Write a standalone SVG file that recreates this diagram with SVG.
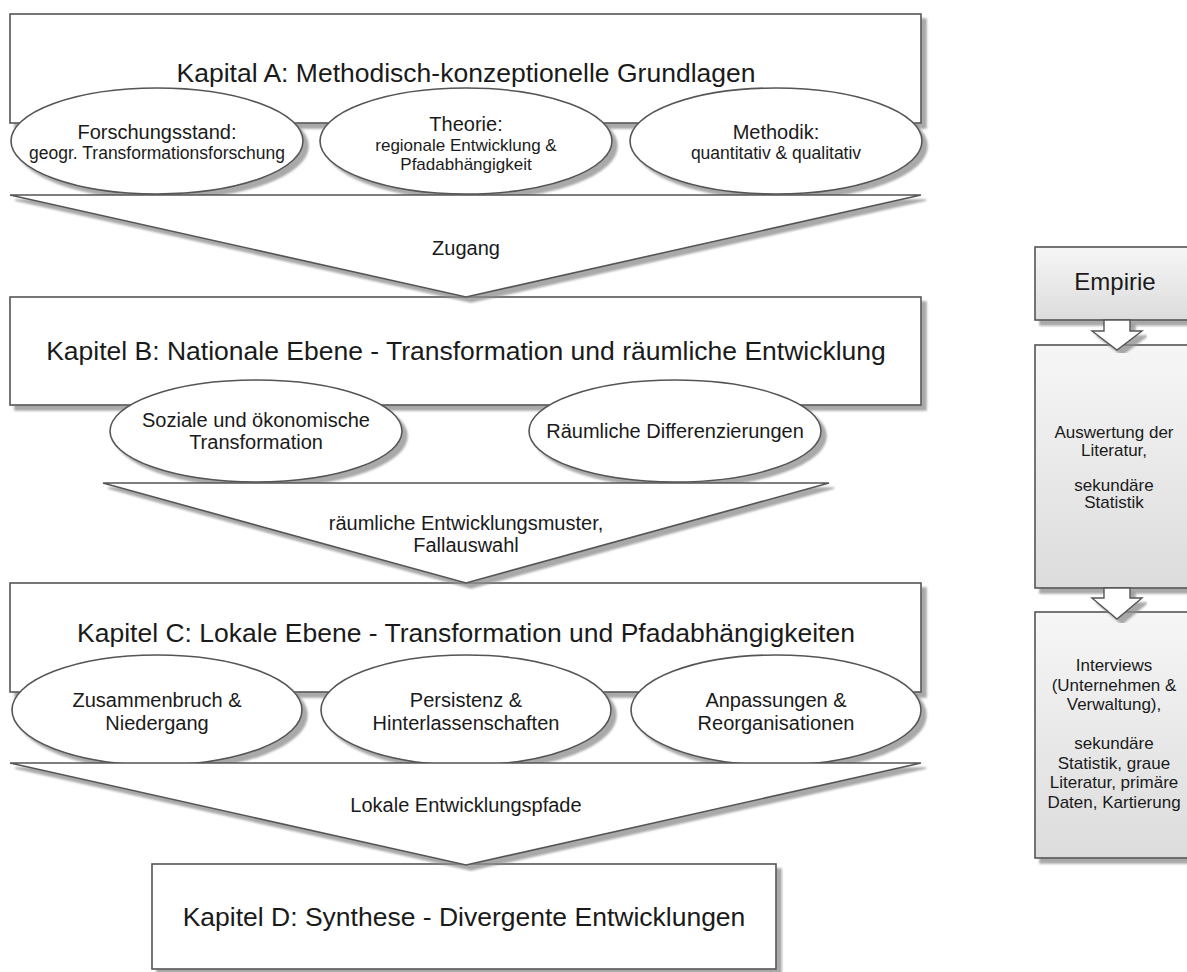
<svg xmlns="http://www.w3.org/2000/svg" width="1187" height="972" viewBox="0 0 1187 972">
<defs>
<filter id="sh">
<feDropShadow dx="5" dy="5" stdDeviation="1.2" flood-color="#8c8c8c" flood-opacity="0.75"/>
</filter>
<linearGradient id="gr" x1="0" y1="0" x2="0" y2="1">
<stop offset="0" stop-color="#f6f6f6"/><stop offset="1" stop-color="#dcdcdc"/>
</linearGradient>
</defs>
<style>
.box{fill:#fff;stroke:#555;stroke-width:1.6;filter:url(#sh)}
.ell{fill:#fff;stroke:#555;stroke-width:1.6;filter:url(#sh)}
.tri{fill:#fff;stroke:#555;stroke-width:1.6;filter:url(#sh)}
.gbox{fill:url(#gr);stroke:#555;stroke-width:1.6;filter:url(#sh)}
.arr{fill:#fff;stroke:#555;stroke-width:1.4;filter:url(#sh)}
text{font-family:"Liberation Sans",Arial,sans-serif;fill:#1a1a1a;text-anchor:middle}
.t{font-size:26.5px}
.e1{font-size:20px}
.e2{font-size:17.5px}
.e3{font-size:17px}
.l{font-size:20px}
.r{font-size:17px}
.h{font-size:24px}
</style>
<g id="kapitel-a"><rect class="box" x="10" y="14" width="911" height="109"/><text class="t" x="466" y="82">Kapital A: Methodisch-konzeptionelle Grundlagen</text></g>
<g id="forschungsstand"><ellipse class="ell" cx="157" cy="141" rx="146" ry="53"/><text class="e1" x="157" y="139">Forschungsstand:</text><text class="e2" x="157" y="159">geogr. Transformationsforschung</text></g>
<g id="theorie"><ellipse class="ell" cx="466" cy="141" rx="146" ry="53"/><text class="e1" x="466" y="131">Theorie:</text><text class="e3" x="466" y="151">regionale Entwicklung &amp;</text><text class="e3" x="466" y="170">Pfadabhängigkeit</text></g>
<g id="methodik"><ellipse class="ell" cx="776" cy="141" rx="146" ry="53"/><text class="e1" x="776" y="139">Methodik:</text><text class="e2" x="776" y="159">quantitativ &amp; qualitativ</text></g>
<g id="kapitel-b"><rect class="box" x="10" y="297" width="911" height="108"/><text class="t" x="466" y="360">Kapitel B: Nationale Ebene - Transformation und räumliche Entwicklung</text></g>
<g id="soziale"><ellipse class="ell" cx="256" cy="431" rx="146" ry="51"/><text class="e1" x="256" y="427">Soziale und ökonomische</text><text class="e1" x="256" y="449">Transformation</text></g>
<g id="raeumliche"><ellipse class="ell" cx="675" cy="431" rx="146" ry="51"/><text class="e1" x="675" y="438">Räumliche Differenzierungen</text></g>
<g id="kapitel-c"><rect class="box" x="10" y="583" width="911" height="109"/><text class="t" x="466" y="642">Kapitel C: Lokale Ebene - Transformation und Pfadabhängigkeiten</text></g>
<g id="zusammenbruch"><ellipse class="ell" cx="157" cy="710" rx="145" ry="55"/><text class="e1" x="157" y="707">Zusammenbruch &amp;</text><text class="e1" x="157" y="730">Niedergang</text></g>
<g id="persistenz"><ellipse class="ell" cx="466" cy="710" rx="145" ry="55"/><text class="e1" x="466" y="707">Persistenz &amp;</text><text class="e1" x="466" y="730">Hinterlassenschaften</text></g>
<g id="anpassungen"><ellipse class="ell" cx="776" cy="710" rx="145" ry="55"/><text class="e1" x="776" y="707">Anpassungen &amp;</text><text class="e1" x="776" y="730">Reorganisationen</text></g>
<g id="kapitel-d"><rect class="box" x="152" y="864" width="624" height="105"/><text class="t" x="464" y="926">Kapitel D: Synthese - Divergente Entwicklungen</text></g>
<g id="empirie"><rect class="gbox" x="1035" y="247" width="160" height="73"/><text class="h" x="1115" y="290">Empirie</text></g>
<g id="empirie-1"><rect class="gbox" x="1035" y="345" width="160" height="243"/><text class="r" x="1114" y="438">Auswertung der</text><text class="r" x="1114" y="455.5">Literatur,</text><text class="r" x="1114" y="490.5">sekundäre</text><text class="r" x="1114" y="508">Statistik</text></g>
<g id="empirie-2"><rect class="gbox" x="1035" y="612" width="160" height="246"/><text class="r" x="1114" y="671">Interviews</text><text class="r" x="1114" y="690.5">(Unternehmen &amp;</text><text class="r" x="1114" y="710">Verwaltung),</text><text class="r" x="1114" y="749">sekundäre</text><text class="r" x="1114" y="768.5">Statistik, graue</text><text class="r" x="1114" y="788">Literatur, primäre</text><text class="r" x="1114" y="807.5">Daten, Kartierung</text></g>
<g id="connectors">
<polygon class="tri" points="10,195 921,195 466,297"/><text class="l" x="466" y="255">Zugang</text>
<polygon class="tri" points="103,483 829,483 466,583"/><text class="l" x="466" y="530">räumliche Entwicklungsmuster,</text><text class="l" x="466" y="552">Fallauswahl</text>
<polygon class="tri" points="10,763 921,763 466,865"/><text class="l" x="466" y="812">Lokale Entwicklungspfade</text>
<polygon class="arr" points="1104,320 1130,320 1130,331 1142,331 1117,350 1092,331 1104,331"/>
<polygon class="arr" points="1104,588 1130,588 1130,598 1142,598 1117,619 1092,598 1104,598"/>
</g>
</svg>
